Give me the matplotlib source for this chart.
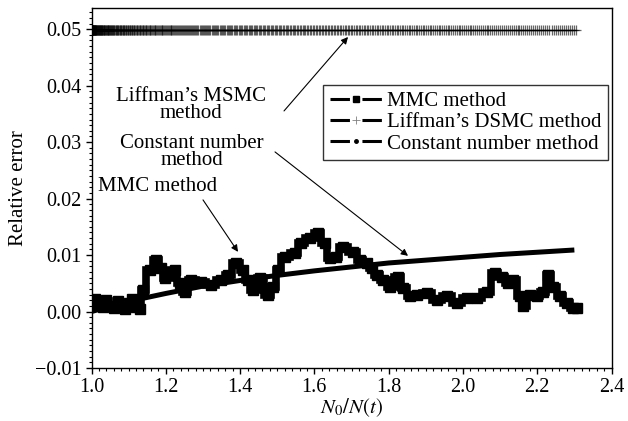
import numpy as np
import matplotlib
matplotlib.use("Agg")
import matplotlib.pyplot as plt
from matplotlib.lines import Line2D
from matplotlib.ticker import MultipleLocator

# ---------------- data ----------------
mmc_x = [1.000, 1.010, 1.020, 1.030, 1.040, 1.050, 1.060, 1.070, 1.080, 1.090,
         1.100, 1.110, 1.120, 1.130, 1.139, 1.157, 1.174, 1.187, 1.197, 1.224,
         1.237, 1.251, 1.268, 1.295, 1.322, 1.349, 1.368, 1.389, 1.408, 1.421,
         1.435, 1.454, 1.475, 1.489, 1.502, 1.520, 1.547, 1.564, 1.588, 1.610,
         1.628, 1.641, 1.658, 1.677, 1.704, 1.723, 1.741, 1.754, 1.768, 1.785,
         1.804, 1.825, 1.839, 1.858, 1.876, 1.903, 1.929, 1.956, 1.983, 2.010,
         2.037, 2.064, 2.086, 2.104, 2.122, 2.136, 2.154, 2.163, 2.181, 2.199,
         2.216, 2.230, 2.243, 2.261, 2.280, 2.297, 2.306]
mmc_y = [0.0015, 0.0022, 0.0012, 0.0008, 0.0020, 0.0010, 0.0006, 0.0018, 0.0012, 0.0005,
         0.0015, 0.0022, 0.0008, 0.0004, 0.0038, 0.0074, 0.0091, 0.0077, 0.0060, 0.0074,
         0.0051, 0.0035, 0.0056, 0.0053, 0.0047, 0.0056, 0.0065, 0.0086, 0.0074, 0.0056,
         0.0038, 0.0060, 0.0030, 0.0044, 0.0074, 0.0097, 0.0104, 0.0121, 0.0130, 0.0139,
         0.0121, 0.0095, 0.0097, 0.0115, 0.0106, 0.0091, 0.0086, 0.0077, 0.0065, 0.0056,
         0.0044, 0.0062, 0.0042, 0.0027, 0.0030, 0.0033, 0.0021, 0.0027, 0.0015, 0.0024,
         0.0024, 0.0035, 0.0068, 0.0062, 0.0051, 0.0056, 0.0027, 0.0009, 0.0030, 0.0027,
         0.0035, 0.0065, 0.0044, 0.0027, 0.0015, 0.0007, 0.0007]

const_x = [1.0, 1.1, 1.2, 1.3, 1.4, 1.5, 1.6, 1.7, 1.8, 1.9, 2.0, 2.1, 2.2, 2.3]
const_y = [0.0, 0.0018, 0.0032, 0.0045, 0.0055, 0.0064, 0.0072, 0.0079, 0.0086,
           0.0091, 0.0096, 0.0101, 0.0105, 0.0109]

liffman_level = 0.0498
liffman_range = (1.0, 2.305)
liffman_samples = 420

legend_labels = ["MMC method", "Liffman\u2019s DSMC method", "Constant number method"]
xticks = [1.0, 1.2, 1.4, 1.6, 1.8, 2.0, 2.2, 2.4]
yticks = [-0.01, 0.00, 0.01, 0.02, 0.03, 0.04, 0.05]

# ---------------- style ----------------
plt.rcParams['font.family'] = ['Liberation Serif', 'DejaVu Serif']
plt.rcParams['mathtext.fontset'] = 'stix'
plt.rcParams['lines.scale_dashes'] = False
FS = 15
TFS = 14.5

fig = plt.figure(figsize=(6.28, 4.21), dpi=100)
ax = fig.add_axes([91.5 / 628, 1 - 368 / 421, 520 / 628, (368 - 8.3) / 421])

# Liffman's DSMC: dense '+' markers (denser at the left)
u = np.linspace(0, 1, liffman_samples)
lx = liffman_range[0] + (liffman_range[1] - liffman_range[0]) * u ** 1.8
ly = np.full_like(lx, liffman_level)
ax.plot(liffman_range, [liffman_level, liffman_level], color='black', lw=0.8)
ax.plot(lx, ly, linestyle='none', marker='+', ms=7, mew=0.9, color='black', alpha=0.6)

# Constant number method
ax.plot(const_x, const_y, color='black', lw=3.6, solid_capstyle='butt')

# MMC method
ax.plot(mmc_x, mmc_y, color='black', lw=5.5, drawstyle='steps-mid', solid_joinstyle='miter')
ax.plot(mmc_x, mmc_y, linestyle='none', marker='s', ms=6.5, color='black')

ax.set_xlim(1.0, 2.4)
ax.set_ylim(-0.01, 0.0537)
ax.set_xticks(xticks)
ax.set_yticks(yticks)
ax.set_xticklabels([f"{t:.1f}" for t in xticks])
ax.set_yticklabels([("\u2212" if t < 0 else "") + f"{abs(t):.2f}" for t in yticks])
ax.xaxis.set_minor_locator(MultipleLocator(0.02))
ax.yaxis.set_minor_locator(MultipleLocator(0.001))
ax.tick_params(which='major', direction='out', length=4.5, width=1, labelsize=TFS,
               top=False, right=False, colors='black', pad=2.5)
ax.tick_params(which='minor', direction='out', length=2.5, width=0.8,
               top=False, right=False)
for s in ax.spines.values():
    s.set_linewidth(1.0)

ax.set_xlabel(r'$N_0/N(t)$', fontsize=FS, labelpad=0)
ax.set_ylabel('Relative error', fontsize=FS, labelpad=5)

# Annotations
arrowprops = dict(arrowstyle='-|>', color='black', lw=0.8, mutation_scale=10,
                  shrinkA=0, shrinkB=0)

def px(xp, yp):
    # pixel position -> data coords
    return (1.0 + (xp - 91.5) / 371.4, (311.7 - yp) / 5650.0)

ax.text(*px(191, 105), "Liffman\u2019s MSMC\nmethod", ha='center', va='center',
        fontsize=FS, linespacing=0.8)
ax.annotate("", xy=px(348, 37), xytext=px(284, 111), arrowprops=arrowprops)

ax.text(*px(192, 152), "Constant number\nmethod", ha='center', va='center',
        fontsize=FS, linespacing=0.8)
ax.annotate("", xy=px(408, 256), xytext=px(275, 152), arrowprops=arrowprops)

ax.text(*px(158, 187), "MMC method", ha='center', va='center', fontsize=FS)
ax.annotate("", xy=px(238, 252), xytext=px(203, 200), arrowprops=arrowprops)

# Legend
handles = [
    Line2D([], [], color='black', lw=2.2, dashes=(14, 9), marker='s', ms=4),
    Line2D([], [], color='black', lw=2.2, dashes=(14, 9), marker='+', ms=6, mew=0.6,
           markeredgecolor='0.5'),
    Line2D([], [], color='black', lw=2.2, dashes=(14, 9), marker='o', ms=2.5),
]
leg = ax.legend(handles, legend_labels, loc='upper right',
                bbox_to_anchor=((608 - 91.5) / 520, (368 - 85) / 359.7),
                borderaxespad=0, fontsize=FS, frameon=True, fancybox=False,
                edgecolor='black', handlelength=2.5, handletextpad=0.25,
                labelspacing=0.08, borderpad=0.32, numpoints=1)
leg.get_frame().set_linewidth(1.0)

fig.savefig("out.png", dpi=100)
